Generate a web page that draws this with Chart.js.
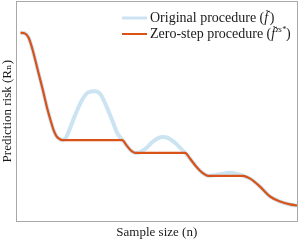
<!DOCTYPE html>
<html>
<head>
<meta charset="utf-8">
<script src="https://cdn.jsdelivr.net/npm/chart.js@4.4.0/dist/chart.umd.min.js"></script>
<style>
  html, body { margin: 0; padding: 0; background: #fff; }
</style>
</head>
<body>
<canvas id="chart" width="299" height="240"></canvas>
<script>
// values (x: sample size, y: prediction risk, both on a 0-100 scale)
const sampleSize = [1.4, 2.8, 4.3, 5.7, 7.5, 9.3, 11.0, 12.1, 13.2, 14.2, 15.3, 16.4,
  17.4, 18.5, 21.0, 23.5, 25.6, 27.8, 29.9, 32.0, 34.2, 35.9, 37.7,
  39.1, 40.6, 42.3, 43.4, 44.1, 46.3, 48.4, 50.5, 52.3, 54.1, 56.2, 58.4, 60.1,
  61.9, 64.1, 66.2, 68.3, 69.8, 72.6, 76.2, 79.0, 80.8,
  83.3, 86.8, 90.4, 94.0, 97.5, 100];

const original = [85.6, 85.4, 83.3, 77.9, 68.9, 59.9, 50.9, 45.9, 41.4, 38.7, 37.4, 36.9,
  37.6, 40.5, 48.6, 55.4, 58.6, 59.0, 57.7, 52.3, 45.5, 40.1, 36.9,
  34.7, 32.4, 31.1, 31.1, 31.5, 33.3, 36.0, 37.8, 38.3, 37.8, 36.0, 33.3, 31.1,
  28.4, 24.8, 22.1, 20.7, 20.8, 21.4, 22.1, 21.4, 20.7,
  19.4, 15.8, 11.3, 9.0, 7.7, 7.2];

const zeroStep = [85.6, 85.4, 83.3, 77.9, 68.9, 59.9, 50.9, 45.9, 41.4, 38.7, 37.4, 36.9,
  36.9, 36.9, 36.9, 36.9, 36.9, 36.9, 36.9, 36.9, 36.9, 36.9, 36.9,
  34.7, 32.4, 31.1, 31.1, 31.1, 31.1, 31.1, 31.1, 31.1, 31.1, 31.1, 31.1, 31.1,
  28.4, 24.8, 22.1, 20.7, 20.7, 20.7, 20.7, 20.7, 20.7,
  19.4, 15.8, 11.3, 9.0, 7.7, 7.2];

const seriesLabels = ["Original procedure (f̃)", "Zero-step procedure (f̃ᶻˢ*)"];
const xTitle = "Sample size (n)";
const yTitle = "Prediction risk (Rₙ)";

const BLUE = "#cce3f2";
const ORANGE = "#d95319";
const GREY = "#a8a8a8";
const TEXT = "#1a1a1a";
const SERIF = "'Liberation Serif', 'DejaVu Serif', serif";

function points(ys) {
  return sampleSize.map((n, i) => ({ x: n, y: ys[i] }));
}

// legend drawn inside the plot, with the italic f and tilde like the original
function drawPieces(ctx, x, y, pieces) {
  pieces.forEach(p => {
    ctx.font = (p.italic ? "italic " : "") + p.size + "px " + SERIF;
    const w = ctx.measureText(p.t).width;
    ctx.fillText(p.t, x, y + (p.dy || 0));
    if (p.tilde) {
      ctx.font = "12px " + SERIF;
      ctx.textAlign = "center";
      ctx.fillText("˜", x + w / 2 + 1.5, y - 2);
      ctx.textAlign = "left";
    }
    x += w + (p.gap || 0);
  });
}

const mathLegend = {
  id: "mathLegend",
  afterDraw(chart) {
    const ctx = chart.ctx;
    const rows = [
      { color: BLUE, width: 3, y: 18, pieces: [
        { t: "Original procedure (", size: 14 },
        { t: "f", size: 14, italic: true, tilde: true, gap: 1.5 },
        { t: ")", size: 14 }
      ] },
      { color: ORANGE, width: 2, y: 34, pieces: [
        { t: "Zero-step procedure (", size: 14 },
        { t: "f", size: 14, italic: true, tilde: true, gap: 0.5 },
        { t: "zs*", size: 8, italic: true, dy: -4 },
        { t: ")", size: 14 }
      ] }
    ];
    ctx.save();
    rows.forEach(r => {
      ctx.strokeStyle = r.color;
      ctx.lineWidth = r.width;
      ctx.beginPath();
      ctx.moveTo(122, r.y);
      ctx.lineTo(147, r.y);
      ctx.stroke();
      ctx.fillStyle = TEXT;
      ctx.textBaseline = "middle";
      ctx.textAlign = "left";
      drawPieces(ctx, 150, r.y, r.pieces);
    });
    ctx.restore();
  }
};

const frameAxis = {
  type: "linear",
  min: 0,
  max: 100,
  grid: { display: false, drawTicks: false },
  ticks: { display: false },
  border: { color: GREY, width: 1 }
};

new Chart(document.getElementById("chart"), {
  type: "line",
  data: {
    datasets: [
      {
        label: seriesLabels[0],
        data: points(original),
        borderColor: BLUE,
        borderWidth: 4,
        pointRadius: 0,
        cubicInterpolationMode: "monotone",
        order: 1
      },
      {
        label: seriesLabels[1],
        data: points(zeroStep),
        borderColor: ORANGE,
        borderWidth: 2.2,
        pointRadius: 0,
        cubicInterpolationMode: "monotone",
        order: 0
      }
    ]
  },
  options: {
    responsive: false,
    animation: false,
    devicePixelRatio: 1,
    layout: { padding: { top: 1, right: 2, left: 0, bottom: 0 } },
    plugins: {
      legend: { display: false },
      tooltip: { enabled: false }
    },
    scales: {
      x: {
        ...frameAxis,
        position: "bottom",
        title: {
          display: true, text: xTitle, color: TEXT,
          font: { family: SERIF, size: 13 },
          padding: { top: 3, bottom: 0 }
        }
      },
      y: {
        ...frameAxis,
        position: "left",
        title: {
          display: true, text: yTitle, color: TEXT,
          font: { family: SERIF, size: 13 },
          padding: { top: 0, bottom: 1 }
        }
      },
      xTop: { ...frameAxis, position: "top" },
      yRight: { ...frameAxis, position: "right" }
    }
  },
  plugins: [mathLegend]
});
</script>
</body>
</html>
